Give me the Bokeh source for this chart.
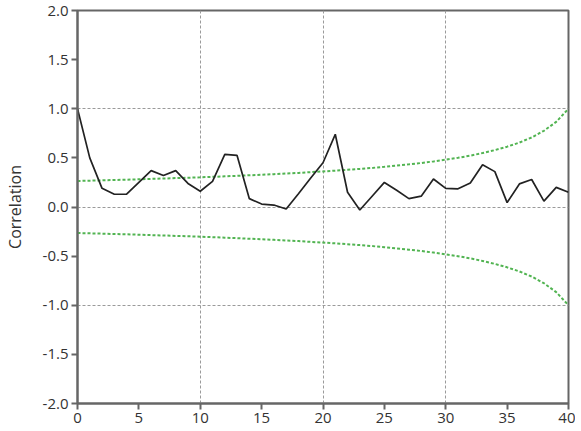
from bokeh.plotting import figure
from bokeh.models import Range1d, SingleIntervalTicker, NumeralTickFormatter, ColumnDataSource
from bokeh.embed import file_html
from bokeh.resources import INLINE

lags = list(range(41))
acf = [1.0, 0.5, 0.19, 0.13, 0.13, 0.25, 0.37, 0.32, 0.37, 0.24,
       0.16, 0.26, 0.535, 0.525, 0.085, 0.03, 0.02, -0.02, 0.135, 0.295,
       0.45, 0.74, 0.15, -0.03, 0.11, 0.25, 0.17, 0.085, 0.11, 0.285,
       0.19, 0.185, 0.245, 0.43, 0.36, 0.045, 0.235, 0.28, 0.06, 0.2, 0.15]
conf_upper = [0.265, 0.268, 0.271, 0.275, 0.278, 0.282, 0.286, 0.290, 0.294, 0.298,
              0.302, 0.307, 0.312, 0.317, 0.323, 0.328, 0.334, 0.341, 0.347, 0.355,
              0.362, 0.370, 0.379, 0.388, 0.398, 0.409, 0.421, 0.434, 0.448, 0.464,
              0.482, 0.501, 0.523, 0.549, 0.579, 0.614, 0.656, 0.708, 0.776, 0.867, 1.0]
conf_lower = [-v for v in conf_upper]
y_label = "Correlation"

FONT = "Open Sans"
AX = "#666666"

p = figure(width=575, height=426, output_backend="svg", toolbar_location=None,
           x_range=Range1d(0, 40), y_range=Range1d(-2, 2),
           min_border_left=75, min_border_right=7, min_border_top=10, min_border_bottom=23)
p.background_fill_color = "white"
p.border_fill_color = "white"
p.outline_line_color = AX
p.outline_line_width = 2

src = ColumnDataSource(dict(lag=lags, acf=acf, up=conf_upper, lo=conf_lower))
p.line("lag", "up", source=src, line_color="#52b452", line_width=2, line_dash="3 2")
p.line("lag", "lo", source=src, line_color="#52b452", line_width=2, line_dash="3 2")
p.line("lag", "acf", source=src, line_color="#222222", line_width=1.7)

p.xaxis.ticker = SingleIntervalTicker(interval=5)
p.yaxis.ticker = SingleIntervalTicker(interval=0.5)
p.yaxis.formatter = NumeralTickFormatter(format="0.0")
p.xgrid.ticker = SingleIntervalTicker(interval=10)
p.ygrid.ticker = SingleIntervalTicker(interval=1)
for g in (p.xgrid, p.ygrid):
    g.grid_line_color = "#9a9a9a"
    g.grid_line_dash = "3 2"
    g.grid_line_width = 1

for ax in (p.xaxis, p.yaxis):
    ax.axis_line_color = AX
    ax.axis_line_width = 2
    ax.major_tick_line_color = AX
    ax.major_tick_line_width = 2
    ax.major_tick_in = 0
    ax.major_tick_out = 6
    ax.minor_tick_line_color = None
    ax.major_label_text_font = FONT
    ax.major_label_text_font_size = "15px"
    ax.major_label_text_color = "#333333"
    ax.major_label_standoff = 3

p.yaxis.axis_label = y_label
p.yaxis.axis_label_text_font = FONT
p.yaxis.axis_label_text_font_size = "16px"
p.yaxis.axis_label_text_font_style = "normal"
p.yaxis.axis_label_text_color = "#333333"
p.yaxis.axis_label_standoff = 14

open("out.html", "w").write(file_html(p, INLINE))
